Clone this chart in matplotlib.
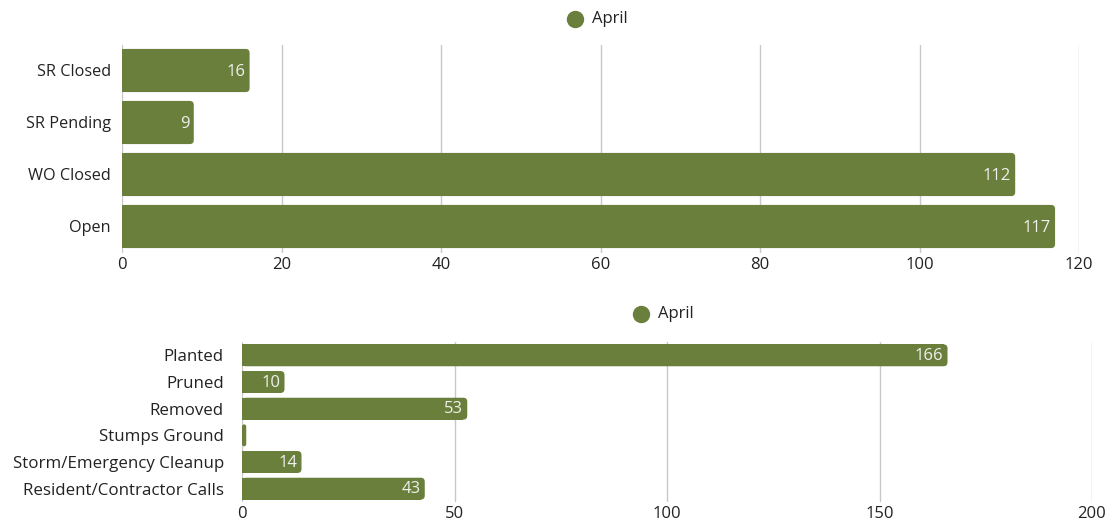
import matplotlib.pyplot as plt
from matplotlib.patches import FancyBboxPatch, Rectangle
from matplotlib.lines import Line2D

plt.rcParams['font.family'] = ['Open Sans', 'DejaVu Sans']

GREEN = '#6a7f3c'

top_labels = ['SR Closed', 'SR Pending', 'WO Closed', 'Open']
top_values = [16, 9, 112, 117]
top_ticks = [0, 20, 40, 60, 80, 100, 120]

bot_labels = ['Planted', 'Pruned', 'Removed', 'Stumps Ground',
              'Storm/Emergency Cleanup', 'Resident/Contractor Calls']
bot_values = [166, 10, 53, 1, 14, 43]
bot_ticks = [0, 50, 100, 150, 200]

series_name = 'April'


def draw_bars(ax, labels, values, ticks, bar_h, ypad, fs=12, rad_px=4):
    n = len(labels)
    ax.set_xlim(ticks[0], ticks[-1])
    ax.set_ylim(n - 0.5, -0.5)
    bbox = ax.get_window_extent()
    xpp = (ticks[-1] - ticks[0]) / bbox.width   # data per px in x
    ypp = n / bbox.height
    r = rad_px * xpp
    for i, v in enumerate(values):
        y0 = i - bar_h / 2
        box = FancyBboxPatch((0, y0), v, bar_h,
                             boxstyle='round,pad=0,rounding_size=%f' % min(r, v / 2),
                             mutation_aspect=ypp / xpp,
                             fc=GREEN, ec='none', zorder=3)
        ax.add_patch(box)
        # square off the left end
        if v > 2 * r:
            ax.add_patch(Rectangle((0, y0), v - r, bar_h, fc=GREEN, ec='none', zorder=3))
        if v >= 5:
            ax.text(v - 4 * xpp, i + 0.02, str(v), ha='right', va='center',
                    color='#f0f0ec', fontsize=12, zorder=4)
    ax.set_yticks(range(n))
    ax.set_yticklabels(labels, fontsize=fs, color='#222222')
    ax.set_xticks(ticks)
    ax.set_xticklabels([str(t) for t in ticks], fontsize=12, color='#222222')
    ax.tick_params(axis='x', length=0, pad=3)
    ax.tick_params(axis='y', length=0, pad=ypad)
    ax.xaxis.grid(True, color='#c8c8c8', linewidth=1, zorder=0)
    ax.set_axisbelow(True)
    for s in ax.spines.values():
        s.set_visible(False)
    ax.patch.set_alpha(0)


def legend_at(fig, xc, yc):
    W, H = 1112, 520
    fig.add_artist(Line2D([xc / W], [1 - yc / H], marker='o', color='none',
                          markerfacecolor=GREEN, markeredgecolor=GREEN,
                          markersize=11.5, transform=fig.transFigure))
    fig.text((xc + 17) / W, 1 - (yc + 0.5) / H, series_name, ha='left', va='center',
             fontsize=12, color='#222222')


fig = plt.figure(figsize=(11.12, 5.2), dpi=100)
fig.patch.set_facecolor('white')

ax1 = fig.add_axes([122 / 1112, 1 - 252.5 / 520, 957 / 1112, 208 / 520])
ax2 = fig.add_axes([242 / 1112, 1 - 502 / 520, 850 / 1112, 160 / 520])

draw_bars(ax1, top_labels, top_values, top_ticks, 0.83, ypad=8, fs=11.7)
draw_bars(ax2, bot_labels, bot_values, bot_ticks, 0.82, ypad=13, fs=12.2)

legend_at(fig, 575, 18.5)
legend_at(fig, 641, 313.5)

fig.savefig('out.png', dpi=100)
